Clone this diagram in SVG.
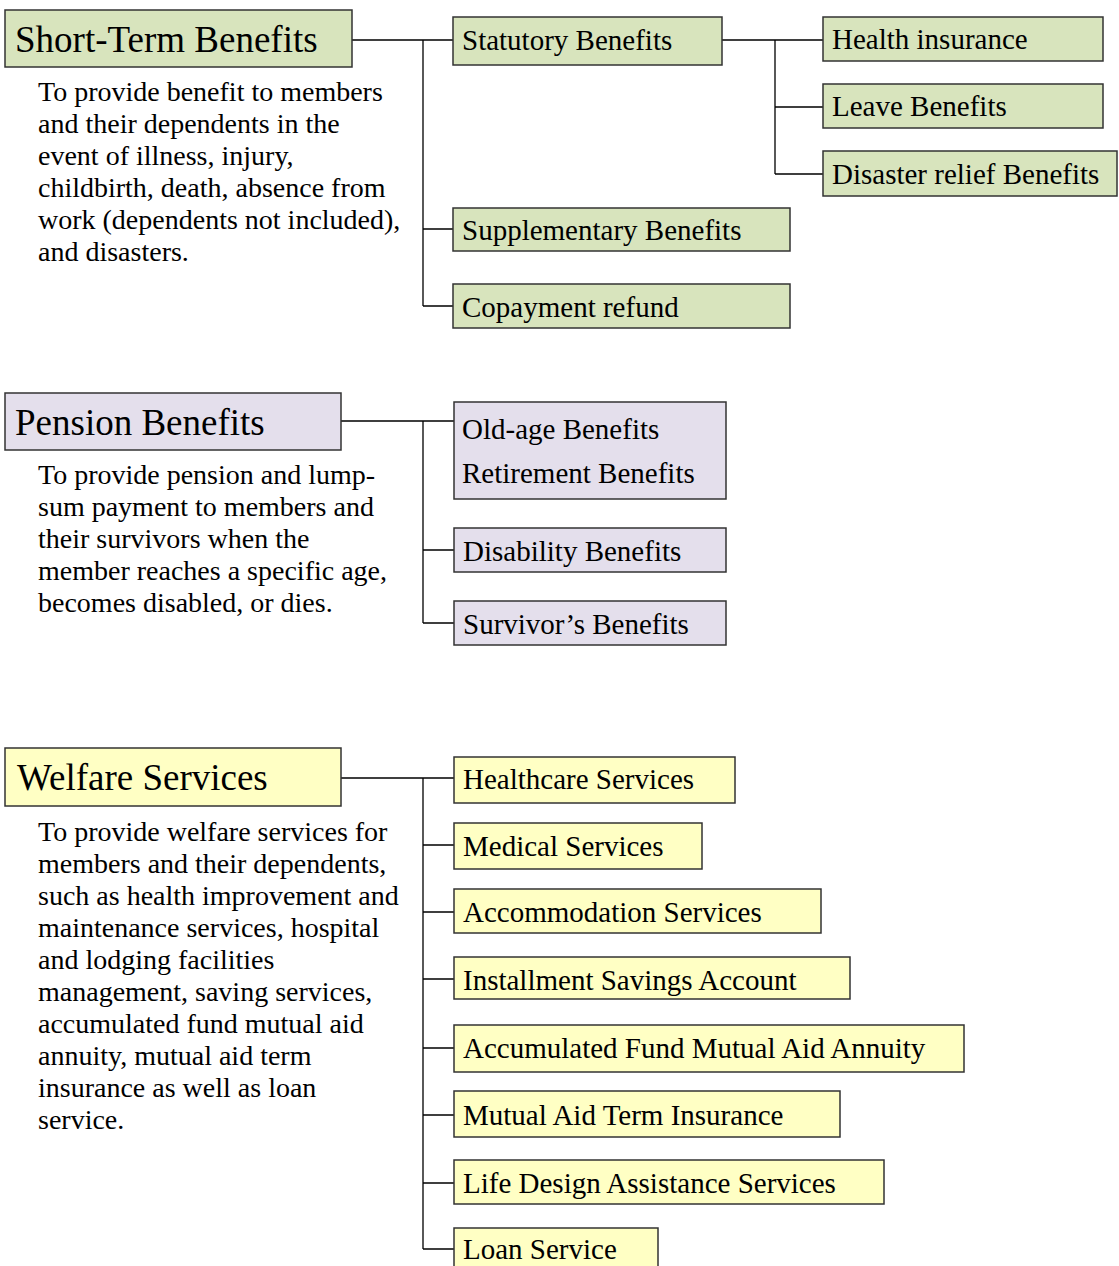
<svg xmlns="http://www.w3.org/2000/svg" width="1119" height="1266" viewBox="0 0 1119 1266">
<style>
  text { font-family: "Liberation Serif", "Times New Roman", serif; fill: #000; }
  .title { font-size: 37px; }
  .desc { font-size: 28px; }
  .lbl { font-size: 29px; }
  .box { stroke: #333; stroke-width: 1.5; }
  .g { fill: #d8e4bd; }
  .p { fill: #e4dfec; }
  .y { fill: #ffffc4; }
  .conn { fill: none; stroke: #000; stroke-width: 1.3; }
</style>
<rect width="1119" height="1266" fill="#fff"/>

<g id="connectors">
  <path class="conn" d="M352,40 H453 M423,40 V306 M423,229 H453 M423,306 H453"/>
  <path class="conn" d="M722,40 H823 M775,40 V174 M775,107 H823 M775,174 H823"/>
  <path class="conn" d="M341,421 H454 M423,421 V623 M423,550 H454 M423,623 H454"/>
  <path class="conn" d="M341,778 H454 M423,778 V1249 M423,845 H454 M423,912 H454 M423,979 H454 M423,1048 H454 M423,1115 H454 M423,1183 H454 M423,1249 H454"/>
</g>

<g id="short-term">
  <rect class="box g" x="5" y="10" width="347" height="57"/>
  <text class="title" x="15" y="52">Short-Term Benefits</text>
</g>
<g id="short-term-desc">
  <text class="desc" x="38" y="101">To provide benefit to members</text>
  <text class="desc" x="38" y="133">and their dependents in the</text>
  <text class="desc" x="38" y="165">event of illness, injury,</text>
  <text class="desc" x="38" y="197">childbirth, death, absence from</text>
  <text class="desc" x="38" y="229">work (dependents not included),</text>
  <text class="desc" x="38" y="261">and disasters.</text>
</g>
<g id="statutory">
  <rect class="box g" x="453" y="17" width="269" height="48"/>
  <text class="lbl" x="462" y="50">Statutory Benefits</text>
</g>
<g id="health-insurance">
  <rect class="box g" x="823" y="17" width="280" height="44"/>
  <text class="lbl" x="832" y="49">Health insurance</text>
</g>
<g id="leave">
  <rect class="box g" x="823" y="84" width="280" height="44"/>
  <text class="lbl" x="832" y="116">Leave Benefits</text>
</g>
<g id="disaster">
  <rect class="box g" x="823" y="151" width="294" height="45"/>
  <text class="lbl" x="832" y="184">Disaster relief Benefits</text>
</g>
<g id="supplementary">
  <rect class="box g" x="453" y="208" width="337" height="43"/>
  <text class="lbl" x="462" y="240">Supplementary Benefits</text>
</g>
<g id="copayment">
  <rect class="box g" x="453" y="284" width="337" height="44"/>
  <text class="lbl" x="462" y="317">Copayment refund</text>
</g>

<g id="pension">
  <rect class="box p" x="5" y="393" width="336" height="57"/>
  <text class="title" x="15" y="435">Pension Benefits</text>
</g>
<g id="pension-desc">
  <text class="desc" x="38" y="484">To provide pension and lump-</text>
  <text class="desc" x="38" y="516">sum payment to members and</text>
  <text class="desc" x="38" y="548">their survivors when the</text>
  <text class="desc" x="38" y="580">member reaches a specific age,</text>
  <text class="desc" x="38" y="612">becomes disabled, or dies.</text>
</g>
<g id="old-age">
  <rect class="box p" x="454" y="402" width="272" height="97"/>
  <text class="lbl" x="462" y="439">Old-age Benefits</text>
  <text class="lbl" x="462" y="483">Retirement Benefits</text>
</g>
<g id="disability">
  <rect class="box p" x="454" y="528" width="272" height="44"/>
  <text class="lbl" x="463" y="561">Disability Benefits</text>
</g>
<g id="survivor">
  <rect class="box p" x="454" y="601" width="272" height="44"/>
  <text class="lbl" x="463" y="634">Survivor’s Benefits</text>
</g>

<g id="welfare">
  <rect class="box y" x="5" y="748" width="336" height="58"/>
  <text class="title" x="17" y="790">Welfare Services</text>
</g>
<g id="welfare-desc">
  <text class="desc" x="38" y="841">To provide welfare services for</text>
  <text class="desc" x="38" y="873">members and their dependents,</text>
  <text class="desc" x="38" y="905">such as health improvement and</text>
  <text class="desc" x="38" y="937">maintenance services, hospital</text>
  <text class="desc" x="38" y="969">and lodging facilities</text>
  <text class="desc" x="38" y="1001">management, saving services,</text>
  <text class="desc" x="38" y="1033">accumulated fund mutual aid</text>
  <text class="desc" x="38" y="1065">annuity, mutual aid term</text>
  <text class="desc" x="38" y="1097">insurance as well as loan</text>
  <text class="desc" x="38" y="1129">service.</text>
</g>
<g id="healthcare">
  <rect class="box y" x="454" y="757" width="281" height="46"/>
  <text class="lbl" x="463" y="789">Healthcare Services</text>
</g>
<g id="medical">
  <rect class="box y" x="454" y="823" width="248" height="46"/>
  <text class="lbl" x="463" y="856">Medical Services</text>
</g>
<g id="accommodation">
  <rect class="box y" x="454" y="889" width="367" height="44"/>
  <text class="lbl" x="463" y="922">Accommodation Services</text>
</g>
<g id="installment">
  <rect class="box y" x="454" y="957" width="396" height="42"/>
  <text class="lbl" x="463" y="990">Installment Savings Account</text>
</g>
<g id="accumulated">
  <rect class="box y" x="454" y="1025" width="510" height="47"/>
  <text class="lbl" x="463" y="1058">Accumulated Fund Mutual Aid Annuity</text>
</g>
<g id="term-insurance">
  <rect class="box y" x="454" y="1091" width="386" height="46"/>
  <text class="lbl" x="463" y="1125">Mutual Aid Term Insurance</text>
</g>
<g id="life-design">
  <rect class="box y" x="454" y="1160" width="430" height="44"/>
  <text class="lbl" x="463" y="1193">Life Design Assistance Services</text>
</g>
<g id="loan">
  <rect class="box y" x="454" y="1228" width="204" height="46"/>
  <text class="lbl" x="463" y="1259">Loan Service</text>
</g>
</svg>
